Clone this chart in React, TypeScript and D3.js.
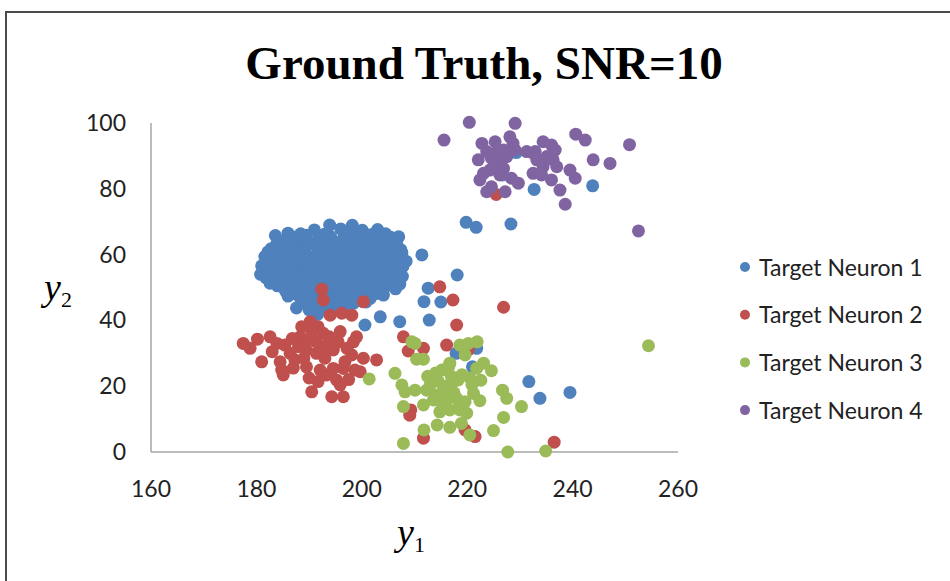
import React from 'react';
import * as d3 from 'd3';

// values: [y1, y2]
const neuron1: [number, number][] = [
  [191.0, 67.5], [193.9, 69.0], [196.0, 67.8], [198.2, 68.9], [200.1, 67.4], [203.0, 67.6], [186.0, 66.5], [183.6, 65.8],
  [188.4, 66.3], [192.9, 66.2], [197.3, 66.4], [201.9, 66.1], [204.5, 66.3],
  [184.5, 64.0], [187.2, 65.3], [189.5, 65.9], [191.8, 64.8], [194.1, 65.5], [196.4, 64.6], [198.8, 65.7], [201.0, 64.9], [203.4, 65.2], [205.5, 65.3], [207.0, 65.4],
  [183.9, 63.4], [186.1, 63.2], [188.4, 63.5], [190.7, 63.3], [193.0, 63.6], [195.3, 63.2], [197.7, 63.5], [200.0, 63.3], [202.3, 63.6], [204.6, 63.4], [206.6, 63.2],
  [182.8, 61.8], [185.0, 62.4], [187.3, 61.6], [189.6, 62.8], [191.9, 62.1], [194.2, 62.9], [196.6, 61.7], [198.9, 62.5], [201.2, 61.9], [203.5, 62.7], [205.8, 62.2], [207.4, 61.5],
  [182.2, 60.8], [184.9, 60.7], [187.1, 60.9], [189.3, 60.6], [191.7, 60.9], [194.0, 60.7], [196.2, 60.8], [198.5, 60.6], [200.9, 60.9], [203.1, 60.7], [205.4, 60.9], [207.6, 60.6],
  [181.6, 59.4], [183.7, 59.9], [186.0, 59.0], [188.3, 59.8], [190.5, 59.2], [192.8, 60.0], [195.1, 59.3], [197.4, 59.9], [199.7, 59.1], [202.0, 59.8], [204.3, 59.4], [206.5, 60.1], [208.4, 58.0],
  [182.4, 58.2], [184.6, 58.1], [186.8, 58.3], [189.1, 58.2], [191.4, 58.4], [193.7, 58.1], [196.0, 58.3], [198.3, 58.2], [200.6, 58.4], [202.8, 58.1], [205.1, 58.3], [207.2, 58.2],
  [181.0, 56.6], [183.2, 57.2], [185.4, 56.5], [187.6, 57.3], [189.9, 56.8], [192.2, 57.4], [194.5, 56.7], [196.8, 57.5], [199.0, 56.9], [201.3, 57.3], [203.6, 56.6], [205.8, 57.2], [207.8, 56.4],
  [181.9, 55.7], [184.1, 55.6], [186.4, 55.8], [188.7, 55.7], [191.0, 55.9], [193.3, 55.6], [195.6, 55.8], [197.9, 55.7], [200.1, 55.9], [202.4, 55.6], [204.6, 55.8], [206.8, 55.7],
  [180.8, 54.0], [183.0, 53.6], [185.3, 54.8], [187.5, 54.2], [189.8, 54.9], [192.1, 54.3], [194.4, 54.7], [196.7, 54.1], [199.0, 54.8], [201.2, 54.2], [203.5, 54.6], [205.7, 54.0], [207.7, 53.4],
  [181.8, 53.0], [184.0, 52.9], [186.2, 53.1], [188.5, 53.0], [190.8, 53.2], [193.1, 52.9], [195.4, 53.1], [197.7, 53.0], [200.0, 53.2], [202.3, 52.9], [204.5, 53.1], [206.6, 53.0],
  [182.6, 51.3], [184.8, 51.9], [187.1, 52.3], [189.4, 51.6], [191.7, 52.4], [194.0, 51.8], [196.3, 52.2], [198.6, 51.5], [200.9, 52.3], [203.1, 51.7], [205.3, 52.1], [207.2, 51.0],
  [184.0, 50.5], [186.4, 50.4], [188.6, 50.6], [190.9, 50.5], [193.2, 50.7], [195.5, 50.4], [197.8, 50.6], [200.1, 50.5], [202.3, 50.7], [204.6, 50.4], [206.0, 50.6],
  [185.5, 49.0], [187.8, 49.6], [190.1, 48.9], [194.6, 49.5], [196.9, 49.0], [199.2, 49.7], [201.5, 49.1], [203.7, 49.8], [206.4, 49.6],
  [186.9, 48.2], [189.1, 48.1], [191.5, 48.3], [193.7, 48.2], [196.0, 48.4], [198.3, 48.1], [200.6, 48.3], [202.8, 48.2],
  [186.0, 47.4], [188.3, 46.8], [190.5, 47.3], [194.9, 47.0], [197.2, 46.6], [199.5, 47.2], [201.6, 46.7], [204.1, 47.7],
  [188.9, 45.9], [191.2, 45.8], [193.5, 46.0], [196.1, 45.9], [198.0, 46.1], [200.2, 45.8],
  [187.6, 43.8], [189.6, 45.0], [193.5, 44.6], [195.3, 43.4], [198.4, 45.2], [200.8, 45.6], [191.6, 41.8],
  [190.0, 43.2], [192.2, 43.1], [194.7, 43.3], [197.0, 43.2],
  [203.5, 41.1], [207.2, 39.6], [200.6, 38.6], [211.4, 59.9], [212.6, 49.8], [211.8, 45.7], [215.0, 45.6], [218.1, 53.8],
  [212.8, 40.1], [217.9, 30.0], [221.8, 31.5], [221.0, 25.9], [231.7, 21.4], [233.8, 16.3], [239.5, 18.1],
  [219.8, 69.8], [221.7, 68.3], [228.3, 69.3], [232.7, 79.8], [243.8, 80.9], [226.7, 84.2], [229.3, 91.0],
];

const neuron2: [number, number][] = [
  [177.5, 33.0], [178.8, 31.5], [180.2, 34.3], [181.0, 27.4], [182.6, 35.0], [183.9, 33.0], [185.4, 32.5], [184.5, 27.4],
  [184.8, 24.9], [185.1, 23.4], [186.4, 30.0], [188.0, 32.0], [188.6, 38.1], [190.2, 39.6], [191.7, 38.1], [192.7, 36.1],
  [188.3, 35.0], [189.9, 34.0], [191.4, 33.5], [193.3, 32.5], [189.5, 31.0], [191.4, 30.0], [193.0, 28.5], [194.6, 31.0],
  [195.9, 36.6], [194.0, 41.6], [196.2, 42.2], [198.1, 41.6], [199.0, 35.0], [198.4, 33.5], [200.3, 28.5], [202.8, 28.0],
  [198.1, 29.5], [198.7, 24.9], [199.7, 24.4], [196.5, 25.4], [194.6, 25.4], [193.3, 23.4], [195.2, 21.9], [195.9, 20.4],
  [191.7, 21.4], [190.5, 18.3], [194.3, 16.8], [196.5, 16.8], [189.5, 25.9], [187.3, 28.0], [192.7, 46.2], [200.3, 45.7],
  [192.1, 24.9], [196.8, 27.4], [192.7, 31.0], [192.4, 49.5],
  [186.8, 34.5], [190.5, 36.5], [187.0, 25.5], [189.0, 28.5], [195.5, 33.5], [197.2, 31.5], [183.0, 30.5], [193.8, 35.0],
  [190.0, 22.5], [197.5, 22.0],
  [207.9, 35.0], [208.8, 30.7], [211.7, 31.5], [216.1, 32.5], [220.2, 31.0], [218.0, 38.6], [226.9, 44.0], [214.8, 50.2],
  [217.3, 46.2], [209.3, 12.8], [209.1, 11.2], [211.7, 4.2], [219.6, 6.7], [221.5, 4.7], [236.5, 3.0], [225.5, 78.3],
];

const neuron3: [number, number][] = [
  [209.5, 33.5], [210.1, 33.0], [210.4, 28.2], [211.7, 28.2], [206.3, 23.9], [218.6, 32.5], [220.2, 33.0], [221.9, 33.5],
  [219.6, 29.5], [215.2, 24.9], [216.7, 27.0], [221.8, 25.4], [223.1, 27.0], [224.6, 24.7], [207.6, 20.4], [208.2, 18.3],
  [210.1, 18.8], [212.3, 18.8], [213.9, 17.3], [215.5, 18.8], [217.1, 20.9], [218.3, 21.9], [220.9, 20.4], [221.2, 17.8],
  [222.4, 15.6], [211.7, 14.3], [207.9, 13.8], [213.6, 15.8], [215.2, 14.8], [216.4, 16.3], [218.0, 16.3], [219.6, 15.3],
  [214.8, 12.2], [216.7, 12.8], [218.6, 12.8], [219.9, 11.8], [214.3, 8.2], [216.7, 7.5], [218.9, 8.7], [220.5, 5.2],
  [211.8, 6.7], [207.9, 2.6], [225.0, 6.5], [226.9, 10.5], [226.7, 18.8], [227.5, 16.3], [230.3, 13.8], [227.7, 0.0],
  [234.9, 0.3], [254.4, 32.3], [201.4, 22.2],
  [216.0, 20.0], [217.5, 18.0], [214.5, 21.5], [219.0, 23.5], [213.0, 20.5], [217.0, 23.0], [215.8, 15.5], [218.5, 14.0],
  [220.5, 22.5], [216.5, 26.0], [214.0, 24.0], [212.5, 23.0], [222.6, 21.8],
];

const neuron4: [number, number][] = [
  [220.4, 100.2], [229.1, 99.9], [215.6, 94.8], [240.6, 96.6], [242.4, 94.8], [250.8, 93.4], [252.5, 67.2],
  [222.8, 93.8], [225.3, 94.3], [228.1, 95.8], [228.7, 93.8], [226.9, 91.8], [223.7, 91.3], [222.1, 88.8], [224.6, 89.3],
  [227.5, 89.8], [225.6, 87.2], [224.3, 85.7], [226.9, 86.2], [223.1, 84.7], [222.4, 82.7], [226.2, 84.2], [228.4, 83.2],
  [229.7, 81.7], [224.6, 80.6], [223.7, 79.1], [227.2, 79.1], [229.1, 91.8], [226.5, 88.8], [225.3, 90.8],
  [231.3, 91.3], [232.9, 91.3], [234.4, 94.3], [236.0, 93.3], [236.7, 91.8], [235.1, 89.8], [233.2, 88.8], [236.3, 88.8],
  [237.0, 86.7], [234.4, 86.7], [232.5, 84.7], [234.1, 84.2], [236.0, 82.7], [239.5, 85.7], [240.5, 83.2], [237.6, 79.6],
  [238.6, 75.3], [243.9, 88.8], [247.1, 87.7], [232.5, 90.8],
];

const seriesNames = ['Target Neuron 1', 'Target Neuron 2', 'Target Neuron 3', 'Target Neuron 4'];
const seriesColors = ['#4F81BD', '#C0504D', '#9BBB59', '#8064A2'];
const xTicks = [160, 180, 200, 220, 240, 260];
const yTicks = [0, 20, 40, 60, 80, 100];

const W = 950;
const H = 581;

export default function App() {
  const x = d3.scaleLinear().domain([160, 260]).range([151, 678]);
  const y = d3.scaleLinear().domain([0, 100]).range([452, 123]);
  const series = [neuron1, neuron2, neuron3, neuron4];
  const sans = 'Lato, "Open Sans", sans-serif';
  const serif = '"Liberation Serif", "Times New Roman", serif';

  return (
    <svg width={W} height={H} style={{ position: 'absolute', left: 0, top: 0, background: '#fff' }}>
      <rect x={0} y={0} width={W} height={H} fill="#fff" />
      <rect x={6} y={12} width={W + 50} height={H + 50} fill="none" stroke="#4a4a4a" strokeWidth={2} />

      <text x={484} y={79} textAnchor="middle" fontFamily={serif} fontWeight="bold" fontSize={47} fill="#000">
        Ground Truth, SNR=10
      </text>

      {/* axes */}
      <line x1={x(160)} x2={x(260)} y1={y(0)} y2={y(0)} stroke="#A6A6A6" strokeWidth={1.5} />
      <line x1={x(160)} x2={x(160)} y1={y(0)} y2={y(100)} stroke="#A6A6A6" strokeWidth={1.5} />

      {xTicks.map((t) => (
        <text key={'x' + t} x={x(t)} y={497} textAnchor="middle" fontFamily={sans} fontSize={23} fill="#222">
          {t}
        </text>
      ))}
      {yTicks.map((t) => (
        <text key={'y' + t} x={126} y={y(t) + 8} textAnchor="end" fontFamily={sans} fontSize={23} fill="#222">
          {t}
        </text>
      ))}

      <text x={397} y={545} fontFamily={serif} fontSize={38} fill="#000">
        <tspan fontStyle="italic">y</tspan>
        <tspan fontSize={22} dy={7}>1</tspan>
      </text>
      <text x={44} y={300} fontFamily={serif} fontSize={38} fill="#000">
        <tspan fontStyle="italic">y</tspan>
        <tspan fontSize={22} dy={7}>2</tspan>
      </text>

      {series.map((pts, i) => (
        <g key={seriesNames[i]}>
          {pts.map((d, j) => (
            <circle key={j} cx={x(d[0])} cy={y(d[1])} r={6.5} fill={seriesColors[i]} />
          ))}
        </g>
      ))}

      {seriesNames.map((name, i) => (
        <g key={name} transform={`translate(745, ${267 + i * 47.7})`}>
          <circle cx={0} cy={0} r={5} fill={seriesColors[i]} />
          <text x={14} y={8.5} fontFamily={sans} fontSize={23} fill="#222">
            {name}
          </text>
        </g>
      ))}
    </svg>
  );
}
